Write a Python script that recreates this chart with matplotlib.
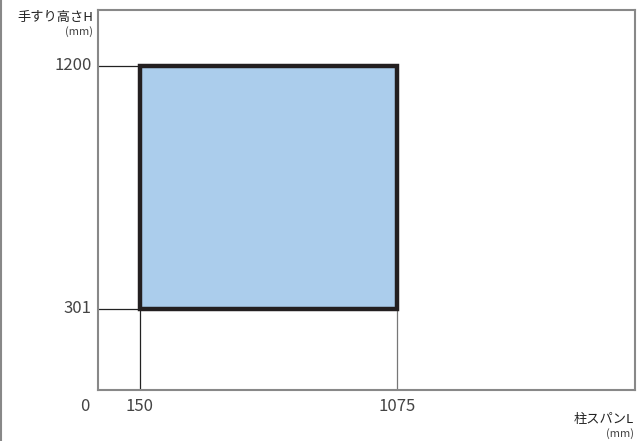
import matplotlib.pyplot as plt
from matplotlib.patches import Rectangle

plt.rcParams['font.family'] = ['Noto Sans CJK JP', 'DejaVu Sans']

# 柱スパンL と 手すり高さH の範囲 (mm)
span_range = [150, 1075]
height_range = [301, 1200]
x_ticks = [0, 150, 1075]
y_ticks = [301, 1200]
x_label = '柱スパンL'
y_label = '手すり高さH'
unit = '(mm)'

fig = plt.figure(figsize=(6.44, 4.41), dpi=100)
ax = fig.add_axes([98 / 644, 1 - 390 / 441, (635 - 98) / 644, (390 - 10) / 441])
ax.set_xlim(0, 1933)
ax.set_ylim(0, 1406)

# guide lines
ax.plot([0, span_range[0]], [height_range[1]] * 2, color='#222222', lw=0.9, zorder=1)
ax.plot([0, span_range[0]], [height_range[0]] * 2, color='#222222', lw=0.9, zorder=1)
ax.plot([span_range[0]] * 2, [0, height_range[0]], color='#222222', lw=0.9, zorder=1)
ax.plot([span_range[1]] * 2, [0, height_range[0]], color='#777777', lw=0.9, zorder=1)

rect = Rectangle((span_range[0], height_range[0]),
                 span_range[1] - span_range[0], height_range[1] - height_range[0],
                 facecolor='#abcdec', edgecolor='#231f20', lw=3.2, zorder=2)
ax.add_patch(rect)

for s in ax.spines.values():
    s.set_color('#888888')
    s.set_linewidth(1.5)

ax.set_xticks([])
ax.set_yticks([])

# tick labels
tick_kw = dict(ha='center', va='center', fontsize=12, color='#444444')
for v in x_ticks:
    if v == 0:
        ax.text(-48, -60, '0', **tick_kw)
    else:
        ax.text(v, -60, str(v), **tick_kw)
for v in y_ticks:
    ax.text(-22, v, str(v), **dict(tick_kw, ha='right'))

fig.text(93 / 644, 1 - 17 / 441, y_label, ha='right', va='center', fontsize=9.5, color='#222222')
fig.text(93 / 644, 1 - 32 / 441, unit, ha='right', va='center', fontsize=8, color='#444444')
fig.text(634 / 644, 1 - 420 / 441, x_label, ha='right', va='center', fontsize=9.5, color='#222222')
fig.text(634 / 644, 1 - 434 / 441, unit, ha='right', va='center', fontsize=8, color='#444444')

# image left border
fig.add_artist(plt.Line2D([0.5 / 644, 0.5 / 644], [0, 1], color='#888888', lw=1.5))

fig.savefig('out.png', dpi=100)
